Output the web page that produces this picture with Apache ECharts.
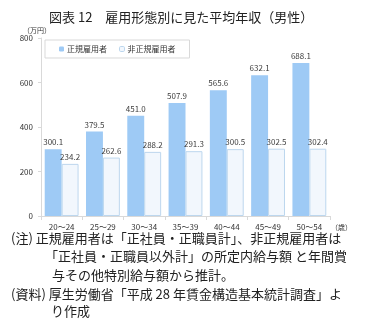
<!DOCTYPE html>
<html>
<head>
<meta charset="utf-8">
<script src="https://cdn.jsdelivr.net/npm/echarts@6/dist/echarts.min.js"></script>
<style>
html,body{margin:0;padding:0;background:#fff;}
#c{width:369px;height:328px;}
</style>
</head>
<body>
<div id="c"></div>
<script>
var categories = ['20～24','25～29','30～34','35～39','40～44','45～49','50～54'];
var regular = [300.1, 379.5, 451.0, 507.9, 565.6, 632.1, 688.1];
var nonRegular = [234.2, 262.6, 288.2, 291.3, 300.5, 302.5, 302.4];
var seriesNames = ['正規雇用者', '非正規雇用者'];
var titleText = '図表 12　雇用形態別に見た平均年収（男性）';
var unitText = '（万円）';
var ageUnit = '（歳）';
var notes = [
  '(注) 正規雇用者は「正社員・正職員計」、非正規雇用者は',
  '「正社員・正職員以外計」の所定内給与額 と年間賞',
  '与その他特別給与額から推計。',
  '(資料) 厚生労働省「平成 28 年賃金構造基本統計調査」よ',
  'り作成'
];

var FONT = '"Noto Sans CJK JP", sans-serif';
var chart = echarts.init(document.getElementById('c'));
var labelCfg = {show:true, position:'top', distance:3, fontSize:8, color:'#404040', fontFamily:FONT,
  formatter:function(p){return p.value.toFixed(1);}};
var noteFont = '13px ' + FONT;
chart.setOption({
  animation:false,
  textStyle:{fontFamily:FONT},
  title:{text:titleText, left:44, top:6, textStyle:{fontSize:13, fontWeight:'normal', color:'#222', fontFamily:FONT}},
  legend:{
    left:45, top:40, orient:'horizontal',
    padding:[5,14,5,14], borderColor:'#d9d9d9', borderWidth:1,
    itemWidth:5, itemHeight:5, itemGap:12,
    textStyle:{fontSize:8, color:'#333', fontFamily:FONT, padding:[0,0,0,-2]},
    data:[
      {name:seriesNames[0], itemStyle:{color:'#9ECAF5', borderWidth:0}},
      {name:seriesNames[1], itemStyle:{color:'#F2F7FD', borderColor:'#BDD7EE', borderWidth:1}}
    ]
  },
  grid:{left:41, right:39, top:38, bottom:112},
  xAxis:{
    type:'category', data:categories,
    axisLine:{lineStyle:{color:'#d9d9d9'}},
    axisTick:{show:true, length:4, lineStyle:{color:'#d9d9d9'}},
    axisLabel:{fontSize:8, color:'#333', margin:7, fontFamily:FONT}
  },
  yAxis:{
    type:'value', min:0, max:800, interval:200,
    axisLine:{show:true, lineStyle:{color:'#d9d9d9'}},
    axisTick:{show:true, length:3, lineStyle:{color:'#d9d9d9'}},
    splitLine:{show:false},
    axisLabel:{fontSize:8, color:'#333', margin:8, fontFamily:FONT}
  },
  series:[
    {name:seriesNames[0], type:'bar', data:regular, barGap:'0%', barCategoryGap:'18%',
     itemStyle:{color:'#9ECAF5'}, label:labelCfg},
    {name:seriesNames[1], type:'bar', data:nonRegular,
     itemStyle:{color:'#F2F7FD', borderColor:'#BDD7EE', borderWidth:1}, label:labelCfg}
  ],
  graphic:[
    {type:'text', left:23, top:27, style:{text:unitText, fill:'#333', font:'7px '+FONT}},
    {type:'text', left:331, top:224, style:{text:ageUnit, fill:'#333', font:'7px '+FONT}},
    {type:'text', left:11, top:232, style:{text:notes[0], fill:'#222', font:noteFont}},
    {type:'text', left:45, top:250, style:{text:notes[1], fill:'#222', font:noteFont}},
    {type:'text', left:52, top:269, style:{text:notes[2], fill:'#222', font:noteFont}},
    {type:'text', left:11, top:288, style:{text:notes[3], fill:'#222', font:noteFont}},
    {type:'text', left:51, top:305, style:{text:notes[4], fill:'#222', font:noteFont}}
  ]
});
</script>
</body>
</html>
